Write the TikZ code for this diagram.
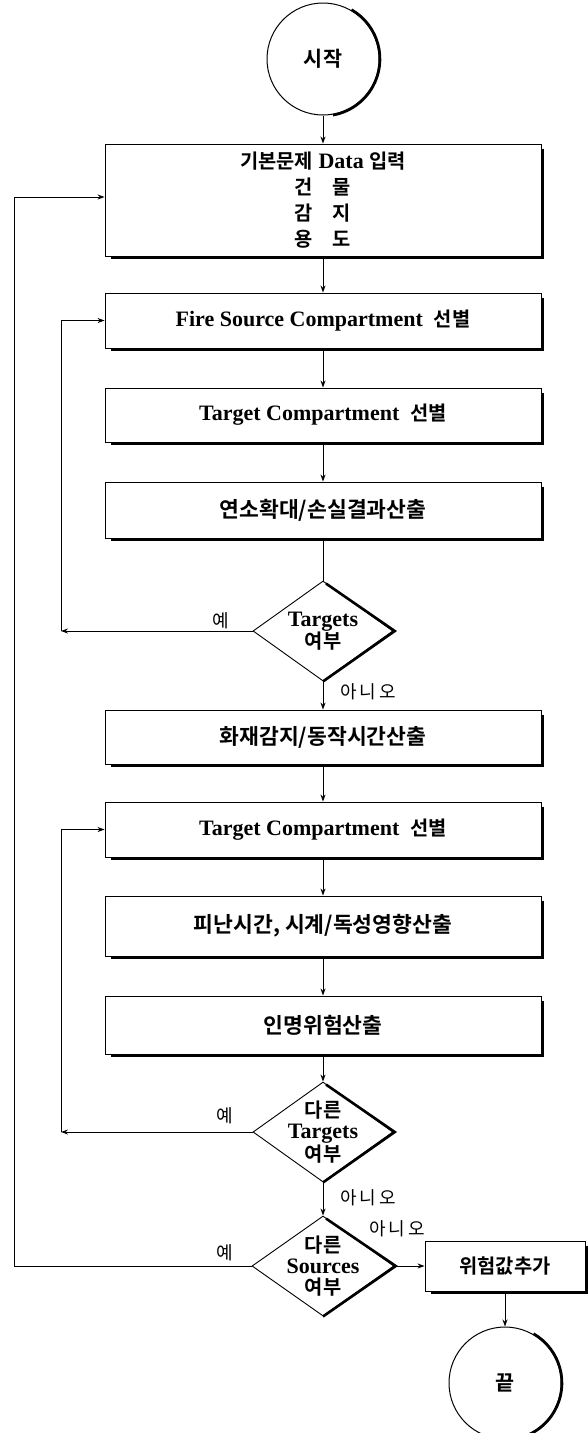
\documentclass[tikz,border=0pt]{standalone}
\usepackage{fontspec}
\setmainfont{Liberation Serif}
\newfontfamily\kr{Noto Sans CJK KR}[Scale=0.9,BoldFont={Noto Sans CJK KR Bold}]
\newfontfamily\krw{Noto Sans CJK KR}[Scale=0.98,BoldFont={Noto Sans CJK KR Bold}]
\newfontfamily\krlab{Noto Sans CJK KR}
\newcommand\K[1]{{\kr #1}}
\newcommand\Kw[1]{{\krw #1}}
\usetikzlibrary{shapes.geometric,arrows.meta}
\begin{document}
\begin{tikzpicture}[x=1pt,y=-1pt,
  box/.style={draw, line width=0.9pt, minimum width=436pt, inner sep=0pt, align=center,
    font=\bfseries\fontsize{22}{26}\selectfont},
  dia/.style={draw, diamond, line width=0.9pt, minimum width=140pt, minimum height=100pt, inner sep=0pt},
  term/.style={draw, circle, line width=1pt, minimum size=112pt, inner sep=0pt,
    font=\bfseries\fontsize{23}{23}\selectfont},
  dtext/.style={align=center, inner sep=0pt, font=\bfseries\fontsize{22}{21}\selectfont},
  arr/.style={line width=0.9pt, -{Stealth[length=7pt,width=5pt]}},
  ln/.style={line width=0.9pt},
  shd/.style={line width=2.6pt},
  lab/.style={inner sep=0pt, font=\krlab\fontsize{18}{18}\selectfont}]
\useasboundingbox (0,0) rectangle (587,1433);

% nodes
\node[term] (s) at (323,59) {\K{시작}};
\node[box, minimum height=112pt] (b1) at (323,200)
  {\K{기본문제} Data \K{입력}\\ \K{건\quad 물}\\ \K{감\quad 지}\\ \K{용\quad 도}};
\node[box, minimum height=55pt] (b2) at (323,320.5) {Fire Source Compartment\ \ \K{선별}};
\node[box, minimum height=54pt] (b3) at (323,415) {Target Compartment\ \ \K{선별}};
\node[box, minimum height=56pt] (b4) at (323,510) {\Kw{연소확대/손실결과산출}};
\node[dia] (d1) at (323,631) {};
\node[dtext] (t1) at (d1) {Targets\\\K{여부}};
\node[box, minimum height=54pt] (b5) at (323,737) {\Kw{화재감지/동작시간산출}};
\node[box, minimum height=55pt] (b6) at (323,829.5) {Target Compartment\ \ \K{선별}};
\node[box, minimum height=60pt] (b7) at (323,926) {\Kw{피난시간, 시계/독성영향산출}};
\node[box, minimum height=58pt] (b8) at (323,1025) {\Kw{인명위험산출}};
\node[dia] (d2) at (323,1132) {};
\node[dtext] (t2) at (d2) {\K{다른}\\Targets\\\K{여부}};
\node[dia, minimum width=142pt] (d3) at (323,1266) {};
\node[dtext] (t3) at (d3) {\K{다른}\\Sources\\\K{여부}};
\node[box, minimum width=160pt, minimum height=50pt] (b9) at (505,1266) {\K{위험값추가}};
\node[term] (e) at (505,1383) {\K{끝}};

% shadow edges
\foreach \n in {b1,b2,b3,b4,b5,b6,b7,b8,b9}{
  \draw[shd] ([shift={(1.3,5)}]\n.north east) -- ([shift={(1.3,1.3)}]\n.south east)
    -- ([shift={(6,1.3)}]\n.south west);
}
\foreach \n in {d1,d2,d3}{
  \draw[shd] ([shift={(3,3)}]\n.north) -- ([shift={(1.3,0)}]\n.east) -- ([shift={(0,0)}]\n.south);
}
\foreach \n in {s,e}{
  \draw[shd] (\n.center) ++(-60:57) arc[start angle=-60, end angle=80, radius=57];
}

% main flow
\draw[arr] (s) -- (b1);
\draw[arr] (b1) -- (b2);
\draw[arr] (b2) -- (b3);
\draw[arr] (b3) -- (b4);
\draw[ln] (b4) -- (d1);
\draw[arr] (d1) -- (b5);
\draw[arr] (b5) -- (b6);
\draw[arr] (b6) -- (b7);
\draw[arr] (b7) -- (b8);
\draw[arr] (b8) -- (d2);
\draw[arr] (d2) -- (d3);
\draw[arr] (d3) -- (b9);
\draw[arr] (b9) -- (e);

% feedback loops
\coordinate (c1) at (61,631);
\draw[arr] (d1.west) -- (c1);
\draw[arr] (c1) |- (b2.west);
\coordinate (c2) at (61,1132);
\draw[arr] (d2.west) -- (c2);
\draw[arr] (c2) |- (b6.west);
\coordinate (c3) at (14,1266);
\draw[arr] (d3.west) -- (c3) |- ([yshift=3pt]b1.west);

% labels
\node[lab] (l1) at (221,621) {예};
\node[lab] (l2) at (368,692) {아\,니\,오};
\node[lab] (l3) at (225,1116) {예};
\node[lab] (l4) at (368,1198) {아\,니\,오};
\node[lab] (l5) at (225,1253) {예};
\node[lab] (l6) at (397,1229) {아\,니\,오};
\end{tikzpicture}
\end{document}
